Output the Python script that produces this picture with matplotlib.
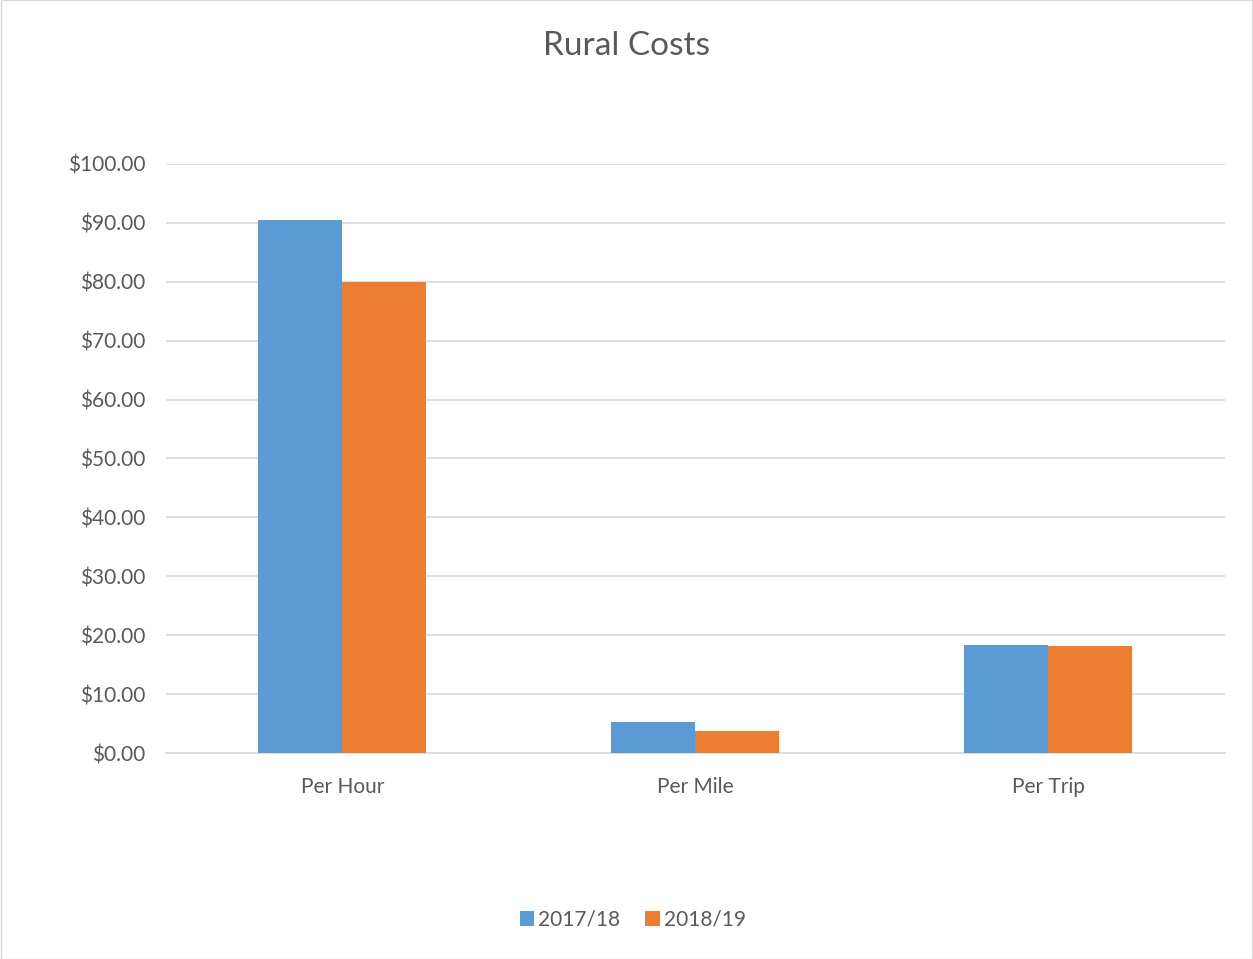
import matplotlib.pyplot as plt
import numpy as np
from matplotlib.patches import Rectangle

categories = ["Per Hour", "Per Mile", "Per Trip"]
series_names = ["2017/18", "2018/19"]
costs_1718 = [90.45, 5.2, 18.3]
costs_1819 = [79.9, 3.75, 18.2]
yticks = [0, 10, 20, 30, 40, 50, 60, 70, 80, 90, 100]

plt.rcParams['font.family'] = ['Lato', 'DejaVu Sans']
txt = '#595959'

fig = plt.figure(figsize=(12.53, 9.59), dpi=100)
ax = fig.add_axes([0.1325, 0.2148, 0.845, 0.6142])

x = np.arange(len(categories))
w = 0.238
ax.bar(x - w / 2, costs_1718, w, color='#5B9BD5', label=series_names[0], zorder=3)
ax.bar(x + w / 2, costs_1819, w, color='#ED7D31', label=series_names[1], zorder=3)

ax.set_xlim(-0.5, 2.5)
ax.set_ylim(0, 100)
ax.set_yticks(yticks)
ax.set_yticklabels(["$%.2f" % v for v in yticks])
ax.set_xticks(x)
ax.set_xticklabels(categories)
ax.tick_params(length=0, labelsize=15, colors=txt)
ax.tick_params(axis='y', pad=15)
ax.tick_params(axis='x', pad=17)
ax.grid(axis='y', color='#D9D9D9', linewidth=1.2, zorder=0)
for s in ['top', 'right', 'left']:
    ax.spines[s].set_visible(False)
ax.spines['bottom'].set_color('#D9D9D9')
ax.spines['bottom'].set_linewidth(1.2)

fig.text(0.5, 0.952, "Rural Costs", ha='center', va='center', fontsize=24, color=txt)

fig.legend(loc='center', bbox_to_anchor=(0.505, 0.041), ncol=2, frameon=False,
           fontsize=15, labelcolor=txt, handlelength=0.7, handleheight=0.7,
           handletextpad=0.2, columnspacing=1.2)

fig.patches.append(Rectangle((0.0005, 0.0005), 0.999, 0.999, transform=fig.transFigure,
                             fill=False, edgecolor='#D9D9D9', linewidth=1))

fig.savefig('out.png', dpi=100)
